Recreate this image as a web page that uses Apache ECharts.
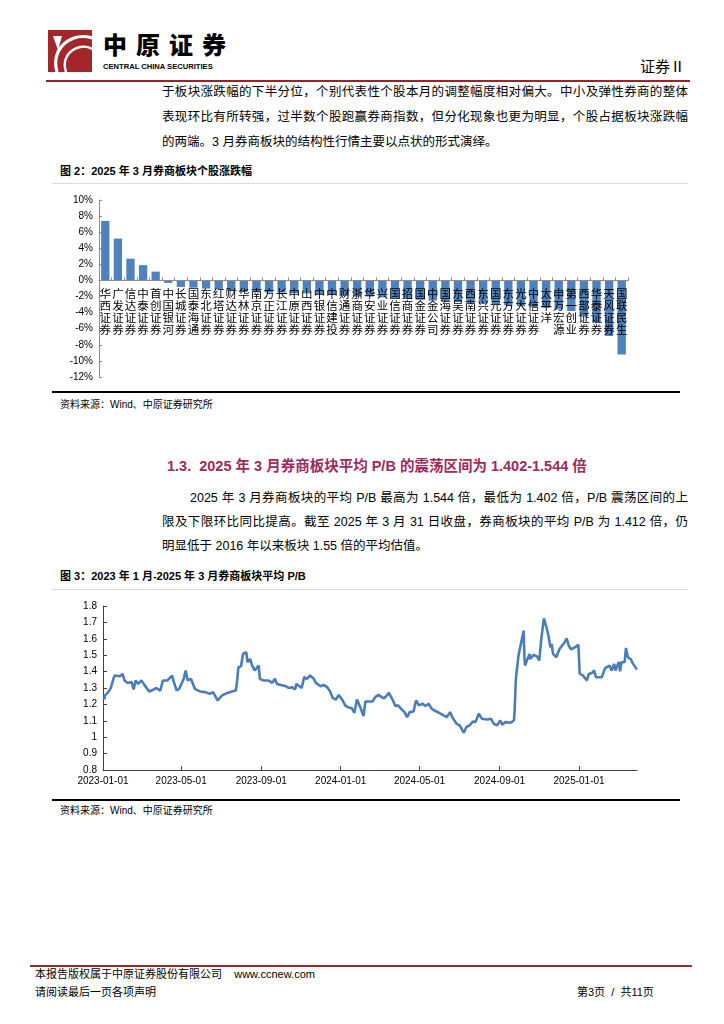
<!DOCTYPE html>
<html>
<head>
<meta charset="utf-8">
<script src="https://cdn.jsdelivr.net/npm/echarts@6/dist/echarts.min.js"></script>
<style>
  html,body{margin:0;padding:0;background:#fff;}
  body{width:724px;height:1024px;position:relative;overflow:hidden;
       font-family:"Liberation Sans","Noto Sans CJK SC",sans-serif;color:#000;}
  .t{position:absolute;white-space:nowrap;line-height:1;}
  .j{position:absolute;white-space:nowrap;line-height:1;text-align:justify;text-align-last:justify;}
  .hr{position:absolute;}
  #chart{position:absolute;left:0;top:0;width:724px;height:1024px;}
</style>
</head>
<body>
<!-- header -->
<svg style="position:absolute;left:48px;top:30px" width="44" height="42" viewBox="0 0 44 42">
  <rect x="0" y="0" width="44" height="42" fill="#A3262B"/>
  <path d="M9 42 C 5 28, 10 14, 26 8 C 32 6, 38 6, 44 8" stroke="#fff" stroke-width="3.2" fill="none"/>
  <path d="M18 42 C 14 30, 20 20, 32 17 C 37 16, 41 17, 44 19" stroke="#fff" stroke-width="2.4" fill="none"/>
  <path d="M5 6 L 14 6 L 10 20 Z" fill="#fff"/>
</svg>
<div class="t" style="left:103px;top:31px;font-size:24px;line-height:26px;font-weight:900;letter-spacing:9px;font-family:'Noto Sans CJK SC';">中原证券</div>
<div class="t" style="left:103px;top:63px;font-size:7.6px;font-weight:bold;">CENTRAL CHINA SECURITIES</div>
<div class="t" style="left:640px;top:58px;font-size:15px;font-family:'Noto Sans CJK SC';">证券Ⅱ</div>
<div class="hr" style="left:46px;top:80px;width:644px;height:2px;background:#9B2226;"></div>

<div class="j" style="left:162px;top:86px;width:526px;font-size:12.5px;">于板块涨跌幅的下半分位，个别代表性个股本月的调整幅度相对偏大。中小及弹性券商的整体</div>
<div class="j" style="left:162px;top:111px;width:526px;font-size:12.5px;">表现环比有所转强，过半数个股跑赢券商指数，但分化现象也更为明显，个股占据板块涨跌幅</div>
<div class="t" style="left:162px;top:136px;font-size:12.5px;">的两端。3 月券商板块的结构性行情主要以点状的形式演绎。</div>

<div class="t" style="left:60px;top:166px;font-size:11px;font-weight:bold;">图 2：2025 年 3 月券商板块个股涨跌幅</div>
<div class="hr" style="left:52px;top:183px;width:636px;height:1px;background:#d9d9d9;"></div>
<div class="hr" style="left:52px;top:391px;width:628px;height:2px;background:#000;"></div>
<div class="t" style="left:60px;top:400px;font-size:10px;">资料来源：Wind、中原证券研究所</div>

<div class="t" style="left:167px;top:459px;font-size:14.5px;font-weight:bold;color:#9C2A5E;">1.3.&nbsp;&nbsp;2025 年 3 月券商板块平均 P/B 的震荡区间为 1.402-1.544 倍</div>

<div class="j" style="left:190px;top:492px;width:498px;font-size:12.5px;">2025 年 3 月券商板块的平均 P/B 最高为 1.544 倍，最低为 1.402 倍，P/B 震荡区间的上</div>
<div class="j" style="left:162px;top:516px;width:526px;font-size:12.5px;">限及下限环比同比提高。截至 2025 年 3 月 31 日收盘，券商板块的平均 P/B 为 1.412 倍，仍</div>
<div class="t" style="left:162px;top:540px;font-size:12.5px;">明显低于 2016 年以来板块 1.55 倍的平均估值。</div>

<div class="t" style="left:60px;top:571px;font-size:11px;font-weight:bold;">图 3：2023 年 1 月-2025 年 3 月券商板块平均 P/B</div>
<div class="hr" style="left:52px;top:589px;width:636px;height:1px;background:#d9d9d9;"></div>
<div class="hr" style="left:52px;top:799px;width:628px;height:2px;background:#000;"></div>
<div class="t" style="left:60px;top:806px;font-size:10px;">资料来源：Wind、中原证券研究所</div>

<!-- footer -->
<div class="hr" style="left:30px;top:965px;width:662px;height:2px;background:#A0282B;"></div>
<div class="t" style="left:35px;top:969px;font-size:11px;">本报告版权属于中原证券股份有限公司&nbsp;&nbsp;&nbsp;&nbsp;www.ccnew.com</div>
<div class="t" style="left:35px;top:987px;font-size:11px;">请阅读最后一页各项声明</div>
<div class="t" style="left:577px;top:987px;font-size:11px;">第3页&nbsp;&nbsp;/&nbsp;&nbsp;共11页</div>

<div id="chart"></div>

<script>
// ---- Figure 2: March 2025 broker stock returns (%) ----
const barCategories = ['华西证券','广发证券','信达证券','中泰证券','首创证券','中国银河','长城证券','国泰海通','东北证券','红塔证券',
  '财达证券','华林证券','南京证券','方正证券','长江证券','中原证券','山西证券','中银证券','中信建投','财通证券',
  '浙商证券','华安证券','兴业证券','国信证券','招商证券','国金证券','中金公司','国海证券','东吴证券','西南证券',
  '东兴证券','国元证券','东方证券','光大证券','中信证券','太平洋','申万宏源','第一创业','西部证券','华泰证券',
  '天风证券','国联民生'];
const barValues = [7.4, 5.2, 2.7, 1.9, 1.1, -0.3, -0.8, -0.9, -1.0, -1.1,
  -1.3, -1.4, -1.4, -1.5, -1.5, -1.6, -1.6, -1.7, -1.8, -1.9,
  -2.0, -2.0, -2.1, -2.2, -2.3, -2.4, -2.5, -2.6, -2.7, -2.8,
  -2.9, -3.0, -3.1, -3.2, -3.3, -3.4, -3.6, -3.8, -4.5, -5.2,
  -6.9, -9.2];
const barYTicks = {min: -12, max: 10, interval: 2};

// ---- Figure 3: average P/B of broker sector ----
const pbDates = ['2023-01-03','2023-01-04','2023-01-09','2023-01-13','2023-01-17','2023-01-19','2023-01-27','2023-01-31','2023-02-03','2023-02-08',
'2023-02-14','2023-02-17','2023-02-20','2023-02-24','2023-03-01','2023-03-06','2023-03-13','2023-03-20','2023-03-24','2023-03-30',
'2023-04-03','2023-04-10','2023-04-17','2023-04-19','2023-04-24','2023-04-28','2023-05-05','2023-05-08','2023-05-11','2023-05-16',
'2023-05-22','2023-05-30','2023-06-07','2023-06-14','2023-06-19','2023-06-26','2023-07-03','2023-07-11','2023-07-18','2023-07-24',
'2023-07-26','2023-07-28','2023-08-01','2023-08-04','2023-08-09','2023-08-11','2023-08-15','2023-08-18','2023-08-22','2023-08-28',
'2023-08-30','2023-09-04','2023-09-12','2023-09-18','2023-09-22','2023-09-25','2023-09-28','2023-10-09','2023-10-13','2023-10-18',
'2023-10-23','2023-10-25','2023-11-02','2023-11-06','2023-11-10','2023-11-15','2023-11-20','2023-11-24','2023-12-01','2023-12-06',
'2023-12-11','2023-12-15','2023-12-20','2023-12-25','2023-12-29','2024-01-03','2024-01-08','2024-01-12','2024-01-18','2024-01-22',
'2024-01-26','2024-01-29','2024-02-01','2024-02-05','2024-02-08','2024-02-19','2024-02-21','2024-02-23','2024-02-28','2024-03-01',
'2024-03-04','2024-03-08','2024-03-12','2024-03-15','2024-03-20','2024-03-25','2024-03-29','2024-04-03','2024-04-08','2024-04-12',
'2024-04-16','2024-04-22','2024-04-24','2024-04-26','2024-04-30','2024-05-06','2024-05-10','2024-05-15','2024-05-20','2024-05-24',
'2024-05-31','2024-06-07','2024-06-12','2024-06-17','2024-06-21','2024-06-27','2024-07-02','2024-07-08','2024-07-12','2024-07-17',
'2024-07-22','2024-07-26','2024-07-31','2024-08-05','2024-08-13','2024-08-19','2024-08-23','2024-08-28','2024-09-02','2024-09-05',
'2024-09-10','2024-09-18','2024-09-23','2024-09-24','2024-09-26','2024-09-27','2024-09-30','2024-10-08','2024-10-09','2024-10-10',
'2024-10-11','2024-10-17','2024-10-18','2024-10-23','2024-10-28','2024-11-01','2024-11-04','2024-11-08','2024-11-12','2024-11-15',
'2024-11-18','2024-11-20','2024-11-22','2024-11-27','2024-12-02','2024-12-06','2024-12-10','2024-12-13','2024-12-16','2024-12-20',
'2024-12-26','2024-12-31','2025-01-02','2025-01-06','2025-01-09','2025-01-13','2025-01-16','2025-01-21','2025-01-24','2025-01-27',
'2025-02-05','2025-02-10','2025-02-13','2025-02-17','2025-02-20','2025-02-24','2025-02-26','2025-03-03','2025-03-05','2025-03-07',
'2025-03-12','2025-03-14','2025-03-17','2025-03-21','2025-03-25','2025-03-28','2025-03-31'];
const pbValues = [1.230,1.255,1.275,1.300,1.356,1.376,1.372,1.386,1.346,1.331,
1.336,1.291,1.346,1.325,1.346,1.316,1.279,1.291,1.300,1.283,
1.346,1.346,1.376,1.346,1.285,1.295,1.356,1.407,1.346,1.356,
1.295,1.279,1.275,1.264,1.275,1.224,1.255,1.270,1.279,1.285,
1.346,1.427,1.433,1.508,1.518,1.457,1.477,1.437,1.407,1.437,
1.356,1.346,1.346,1.331,1.356,1.325,1.316,1.311,1.300,1.305,
1.291,1.325,1.300,1.366,1.356,1.376,1.360,1.331,1.311,1.319,
1.305,1.285,1.238,1.230,1.258,1.230,1.194,1.183,1.177,1.149,
1.230,1.230,1.173,1.129,1.218,1.218,1.224,1.244,1.258,1.270,
1.244,1.238,1.255,1.270,1.234,1.190,1.194,1.173,1.153,1.123,
1.153,1.157,1.197,1.224,1.194,1.204,1.190,1.204,1.173,1.163,
1.149,1.133,1.123,1.153,1.117,1.082,1.070,1.027,1.062,1.072,
1.096,1.092,1.143,1.112,1.108,1.112,1.082,1.072,1.102,1.076,
1.092,1.088,1.102,1.153,1.356,1.366,1.498,1.650,1.498,1.437,
1.427,1.508,1.477,1.502,1.494,1.468,1.599,1.725,1.670,1.620,
1.549,1.569,1.508,1.488,1.538,1.559,1.579,1.603,1.559,1.535,
1.549,1.563,1.386,1.380,1.386,1.346,1.386,1.392,1.407,1.366,
1.366,1.421,1.427,1.437,1.407,1.447,1.407,1.459,1.402,1.457,
1.457,1.544,1.488,1.477,1.447,1.447,1.412];
const pbXRange = ['2023-01-01', '2025-03-31'];
const pbXTickLabels = ['2023-01-01','2023-05-01','2023-09-01','2024-01-01','2024-05-01','2024-09-01','2025-01-01'];
const pbYTicks = {min: 0.8, max: 1.8, interval: 0.1};

function localTime(s){ const p = s.split('-').map(Number); return new Date(p[0], p[1]-1, p[2]).getTime(); }
function fmtDate(v){ const d = new Date(v); const m = d.getMonth()+1, dd = d.getDate();
  return d.getFullYear() + '-' + (m<10?'0':'') + m + '-' + (dd<10?'0':'') + dd; }

const tickTimes = pbXTickLabels.map(localTime);
const axisFont = {fontFamily:'Liberation Sans', fontSize:10, color:'#000'};

// bar grid geometry; category axis sits on the 0% line
const barGrid = {left:99, top:200, width:529, height:177};
const zeroOffset = -barGrid.height * (0 - barYTicks.min) / (barYTicks.max - barYTicks.min);

const chart = echarts.init(document.getElementById('chart'), null, {renderer:'canvas'});
chart.setOption({
  animation:false,
  backgroundColor:'transparent',
  grid:[
    Object.assign({containLabel:false}, barGrid),
    {left:103, top:606, width:534, height:164, containLabel:false}
  ],
  xAxis:[
    {type:'category', gridIndex:0, data:barCategories, z:10, position:'bottom', offset:zeroOffset,
     axisLine:{onZero:false, lineStyle:{color:'#8c8c8c', width:1}},
     axisTick:{show:true, inside:true, length:3, lineStyle:{color:'#8c8c8c'}},
     axisLabel:{interval:0, margin:7, fontFamily:'Noto Sans CJK SC', fontSize:11.5, lineHeight:12, color:'#000',
       formatter:v => v.split('').join('\n'), verticalAlign:'top', hideOverlap:false},
     splitLine:{show:false}},
    {type:'value', gridIndex:1, min:localTime(pbXRange[0]), max:localTime(pbXRange[1]),
     axisLine:{onZero:false, lineStyle:{color:'#404040', width:1}},
     axisTick:{show:true, inside:true, length:4, customValues:tickTimes, lineStyle:{color:'#404040'}},
     axisLabel:Object.assign({customValues:tickTimes, margin:6, formatter:v => fmtDate(v), hideOverlap:false}, axisFont),
     splitLine:{show:false}}
  ],
  yAxis:[
    {type:'value', gridIndex:0, min:barYTicks.min, max:barYTicks.max, interval:barYTicks.interval,
     axisLine:{show:true, onZero:false, lineStyle:{color:'#8c8c8c'}},
     axisTick:{show:true, inside:true, length:3, lineStyle:{color:'#8c8c8c'}},
     axisLabel:Object.assign({formatter:'{value}%', margin:6}, axisFont),
     splitLine:{show:false}},
    {type:'value', gridIndex:1, min:pbYTicks.min, max:pbYTicks.max, interval:pbYTicks.interval,
     axisLine:{show:true, onZero:false, lineStyle:{color:'#404040'}},
     axisTick:{show:true, inside:true, length:4, lineStyle:{color:'#404040'}},
     axisLabel:Object.assign({margin:6}, axisFont),
     splitLine:{show:false}}
  ],
  series:[
    {type:'bar', xAxisIndex:0, yAxisIndex:0, data:barValues, barCategoryGap:'34%',
     itemStyle:{color:'#4F81BD'}, z:2},
    {type:'line', xAxisIndex:1, yAxisIndex:1, data:pbDates.map((d,i)=>[localTime(d), pbValues[i]]),
     showSymbol:false, symbol:'none', lineStyle:{color:'#4A7EBB', width:2.6}, z:3}
  ]
});
</script>
</body>
</html>
